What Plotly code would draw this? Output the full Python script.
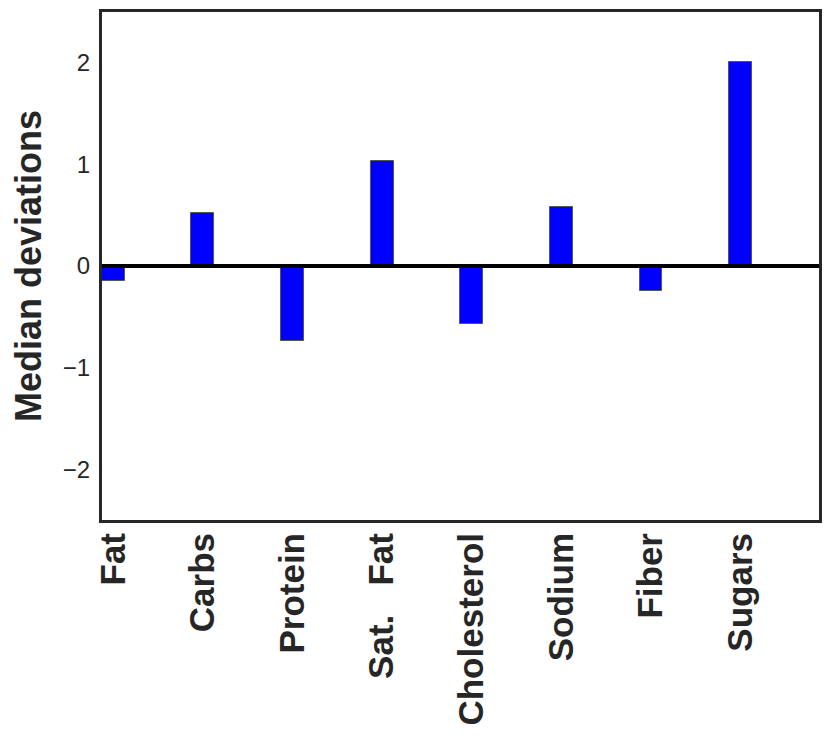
import plotly.graph_objects as go

categories = ["Fat", "Carbs", "Protein", "Sat.\u00a0\u00a0\u00a0Fat", "Cholesterol", "Sodium", "Fiber", "Sugars"]
values = [-0.145, 0.52, -0.74, 1.03, -0.57, 0.58, -0.25, 2.01]
y_ticks = [-2, -1, 0, 1, 2]
y_label = "Median deviations"

positions = list(range(len(categories)))

fig = go.Figure()
fig.add_trace(go.Bar(
    x=positions, y=values, width=0.255,
    marker=dict(color="#0000ff", line=dict(color="#555555", width=1)),
    showlegend=False,
))

fig.add_shape(type="line", xref="paper", yref="y", x0=0, x1=1, y0=0, y1=0,
              line=dict(color="black", width=4), layer="above")

frame = "#262626"
fig.update_layout(
    width=823, height=731,
    margin=dict(l=94, r=12, t=4, b=219),
    paper_bgcolor="white", plot_bgcolor="white",
    font=dict(family="Liberation Sans, Arial, sans-serif", color=frame),
    bargap=0,
)
fig.update_xaxes(
    range=[-0.125, 7.875],
    tickmode="array", tickvals=positions, ticktext=categories,
    tickangle=-90,
    tickfont=dict(size=35, family="Liberation Sans, Arial, sans-serif", color=frame, weight="bold"),
    showgrid=False, zeroline=False,
    showline=True, mirror=True, linewidth=3, linecolor=frame,
    ticks="", ticklabelstandoff=-4, automargin=False,
)
fig.update_yaxes(
    range=[-2.5, 2.5],
    tickmode="array", tickvals=y_ticks,
    tickfont=dict(size=24, color=frame),
    title=dict(text=y_label, font=dict(size=36, weight="bold", color=frame), standoff=14),
    showgrid=False, zeroline=False,
    showline=True, mirror=True, linewidth=3, linecolor=frame,
    ticks="", ticklabelstandoff=4, automargin=False,
)

fig.write_html("out.html")
